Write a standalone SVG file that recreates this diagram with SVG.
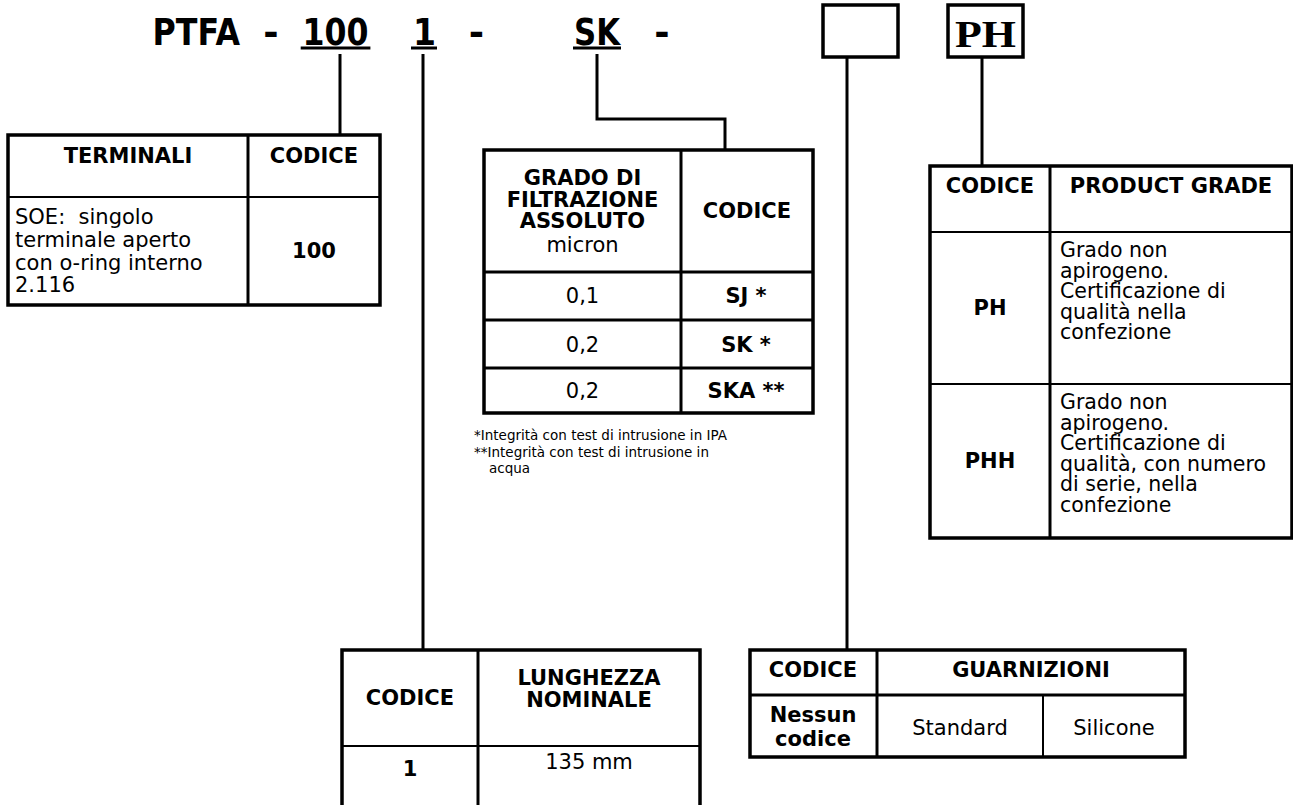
<svg xmlns="http://www.w3.org/2000/svg" width="1293" height="805" viewBox="0 0 1293 805">
<style>
  .bg{fill:#fff}
  .box{fill:none;stroke:#000;stroke-width:3.5}
  .vl{stroke:#000;stroke-width:3;fill:none}
  .hl{stroke:#000;stroke-width:2;fill:none}
  .con{stroke:#000;stroke-width:3;fill:none}
  .t{font-family:"DejaVu Sans","Verdana",sans-serif;fill:#000}
  .h{font-weight:bold;font-size:21px}
  .b{font-size:21px}
  .r{font-size:21px}
  .c{text-anchor:middle}
  .big{font-family:"DejaVu Sans",sans-serif;font-weight:bold;font-size:37px;fill:#000}
</style>
<rect class="bg" x="0" y="0" width="1293" height="805"/>

<g id="code">
  <text class="big" x="152.5" y="45" textLength="87.5" lengthAdjust="spacingAndGlyphs">PTFA</text>
  <text class="big c" x="271" y="45">-</text>
  <text class="big" x="302.5" y="45" textLength="66" lengthAdjust="spacingAndGlyphs">100</text>
  <rect x="300.7" y="46.5" width="69.7" height="3"/>
  <text class="big" x="413" y="45" textLength="23" lengthAdjust="spacingAndGlyphs">1</text>
  <rect x="411" y="46.5" width="26" height="3"/>
  <text class="big c" x="476.5" y="45">-</text>
  <text class="big" x="574" y="45" textLength="46" lengthAdjust="spacingAndGlyphs">SK</text>
  <rect x="573" y="46.5" width="48" height="3"/>
  <text class="big c" x="662" y="45">-</text>
</g>

<g id="box-empty">
  <rect class="box" x="823" y="5" width="75" height="52" fill="#fff"/>
</g>
<g id="box-ph">
  <rect class="box" x="948" y="5" width="75" height="52"/>
  <text x="955" y="47" textLength="61" lengthAdjust="spacingAndGlyphs" style="font-family:'Liberation Serif','Times New Roman',serif;font-weight:bold;font-size:37px">PH</text>
</g>

<g id="connectors">
  <line class="con" x1="340" y1="54" x2="340" y2="135"/>
  <line class="con" x1="423" y1="54" x2="423" y2="650"/>
  <polyline class="con" points="597,54 597,119 725,119 725,150"/>
  <line class="con" x1="847" y1="57" x2="847" y2="650"/>
  <line class="con" x1="982" y1="57" x2="982" y2="166"/>
</g>

<g id="terminali">
  <rect class="box" x="8" y="135" width="372" height="170"/>
  <line class="vl" x1="248" y1="135" x2="248" y2="305"/>
  <line class="hl" x1="8" y1="197" x2="380" y2="197"/>
  <text class="t h c" x="128" y="163">TERMINALI</text>
  <text class="t h c" x="314" y="163">CODICE</text>
  <text class="t b" xml:space="preserve"><tspan x="15" y="224">SOE:  singolo</tspan><tspan x="15" y="247">terminale aperto</tspan><tspan x="15" y="270">con o-ring interno</tspan><tspan x="15" y="292">2.116</tspan></text>
  <text class="t h c" x="314" y="258">100</text>
</g>

<g id="grado">
  <rect class="box" x="484" y="150" width="329" height="263"/>
  <line class="vl" x1="681" y1="150" x2="681" y2="413"/>
  <line class="vl" x1="484" y1="272" x2="813" y2="272"/>
  <line class="vl" x1="484" y1="320" x2="813" y2="320"/>
  <line class="vl" x1="484" y1="368" x2="813" y2="368"/>
  <text class="t h c"><tspan x="582.5" y="185">GRADO DI</tspan><tspan x="582.5" y="206.5">FILTRAZIONE</tspan><tspan x="582.5" y="228">ASSOLUTO</tspan><tspan x="582.5" y="252" style="font-weight:normal">micron</tspan></text>
  <text class="t h c" x="747" y="218">CODICE</text>
  <text class="t r c" x="582.5" y="303">0,1</text>
  <text class="t r c" x="582.5" y="352">0,2</text>
  <text class="t r c" x="582.5" y="398">0,2</text>
  <text class="t h c" x="746" y="303" xml:space="preserve">SJ *</text>
  <text class="t h c" x="746" y="352" xml:space="preserve">SK *</text>
  <text class="t h c" x="746" y="398" xml:space="preserve">SKA **</text>
</g>

<g id="footnotes">
  <text class="t" style="font-size:13.5px"><tspan x="474" y="440">*Integrità con test di intrusione in IPA</tspan><tspan x="474" y="456.5">**Integrità con test di intrusione in</tspan><tspan x="489" y="473">acqua</tspan></text>
</g>

<g id="product-grade">
  <rect class="box" x="930" y="166" width="362" height="372"/>
  <line class="vl" x1="1050" y1="166" x2="1050" y2="538"/>
  <line class="hl" x1="930" y1="232" x2="1292" y2="232"/>
  <line class="hl" x1="930" y1="384" x2="1292" y2="384"/>
  <text class="t h c" x="990" y="193">CODICE</text>
  <text class="t h c" x="1171" y="193">PRODUCT GRADE</text>
  <text class="t h c" x="990" y="315">PH</text>
  <text class="t h c" x="990" y="468">PHH</text>
  <text class="t" style="font-size:20.5px"><tspan x="1060" y="257">Grado non</tspan><tspan x="1060" y="277.5">apirogeno.</tspan><tspan x="1060" y="298">Certificazione di</tspan><tspan x="1060" y="318.5">qualità nella</tspan><tspan x="1060" y="339">confezione</tspan></text>
  <text class="t" style="font-size:20.5px"><tspan x="1060" y="409">Grado non</tspan><tspan x="1060" y="429.5">apirogeno.</tspan><tspan x="1060" y="450">Certificazione di</tspan><tspan x="1060" y="470.5">qualità, con numero</tspan><tspan x="1060" y="491">di serie, nella</tspan><tspan x="1060" y="511.5">confezione</tspan></text>
</g>

<g id="lunghezza">
  <path class="box" d="M342,805 V650 H700 V805"/>
  <line class="vl" x1="478" y1="650" x2="478" y2="805"/>
  <line class="hl" x1="342" y1="746" x2="700" y2="746"/>
  <text class="t h c" x="410" y="705">CODICE</text>
  <text class="t h c"><tspan x="589" y="685">LUNGHEZZA</tspan><tspan x="589" y="707">NOMINALE</tspan></text>
  <text class="t h c" x="410" y="776">1</text>
  <text class="t b c" x="589" y="769">135 mm</text>
</g>

<g id="guarnizioni">
  <rect class="box" x="750" y="650" width="435" height="107"/>
  <line class="vl" x1="877" y1="650" x2="877" y2="757"/>
  <line class="vl" x1="750" y1="695" x2="1185" y2="695"/>
  <line class="hl" x1="1043" y1="695" x2="1043" y2="757"/>
  <text class="t h c" x="813" y="677">CODICE</text>
  <text class="t h c" x="1031" y="677">GUARNIZIONI</text>
  <text class="t h c"><tspan x="813" y="722">Nessun</tspan><tspan x="813" y="746">codice</tspan></text>
  <text class="t b c" x="960" y="735">Standard</text>
  <text class="t b c" x="1114" y="735">Silicone</text>
</g>
</svg>
